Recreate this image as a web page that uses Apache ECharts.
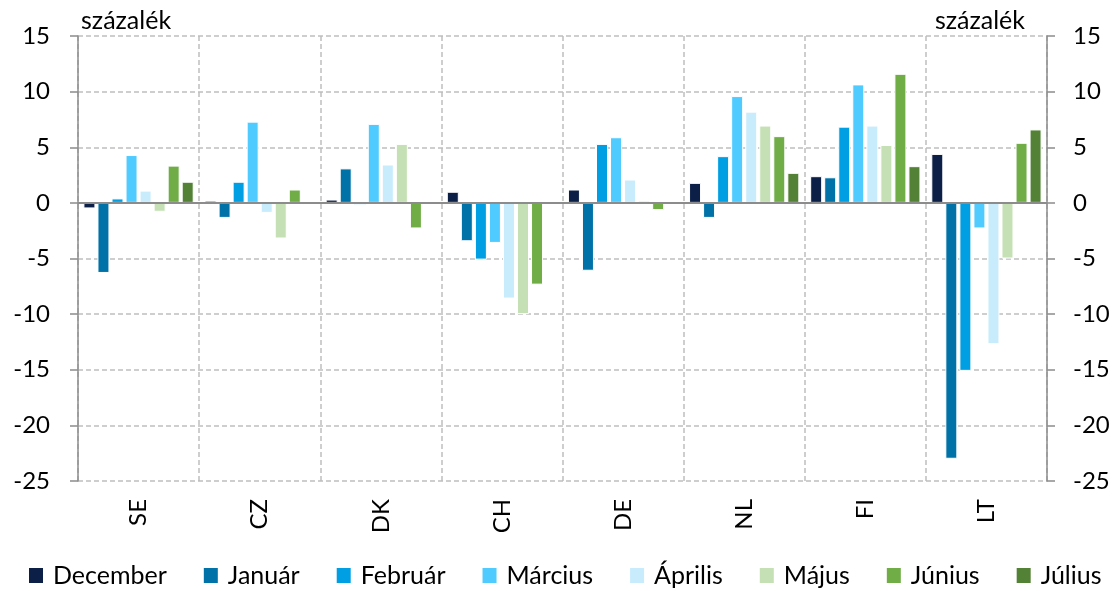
<!DOCTYPE html>
<html><head><meta charset="utf-8">
<script src="https://cdn.jsdelivr.net/npm/echarts@6/dist/echarts.min.js"></script>
<style>html,body{margin:0;padding:0;background:#fff}#c{width:1118px;height:591px}</style>
</head><body><div id="c"></div>
<script>
const categories = ['SE','CZ','DK','CH','DE','NL','FI','LT'];
const seriesNames = ['December','Január','Február','Március','Április','Május','Június','Július'];
const dec = [-0.5, 0.2, 0.3, 1.0, 1.2, 1.8, 2.4, 4.4];
const jan = [-6.3, -1.35, 3.1, -3.45, -6.1, -1.35, 2.3, -23.0];
const feb = [0.4, 1.9, -0.2, -5.1, 5.3, 4.2, 6.85, -15.1];
const mar = [4.3, 7.3, 7.1, -3.6, 5.9, 9.6, 10.65, -2.3];
const apr = [1.1, -0.9, 3.45, -8.6, 2.1, 8.2, 6.95, -12.7];
const may = [-0.8, -3.2, 5.3, -10.0, 0.2, 6.95, 5.2, -5.0];
const jun = [3.35, 1.2, -2.3, -7.35, -0.65, 6.0, 11.6, 5.4];
const jul = [1.9, 0, 0, 0, 0, 2.7, 3.3, 6.6];
const yTicks = [-25, -20, -15, -10, -5, 0, 5, 10, 15];
const colors = ['#0C1F47','#0072A8','#009FE3','#4FCBFF','#C8ECFC','#C5E0B4','#70AD47','#538135'];
const values = [dec, jan, feb, mar, apr, may, jun, jul];

const font = 'Lato, "Open Sans", sans-serif';
const chart = echarts.init(document.getElementById('c'));
const yAxisCommon = {
  type: 'value', min: yTicks[0], max: yTicks[yTicks.length-1], interval: 5,
  axisLine: {show: true, lineStyle: {color: '#8c8c8c', width: 1.5}},
  axisTick: {show: true, length: 8, lineStyle: {color: '#8c8c8c', width: 1.5}}
};
chart.setOption({
  animation: false,
  color: colors,
  grid: {left: 78, right: 71, top: 36, bottom: 110, containLabel: false},
  legend: {
    bottom: 3, left: 27, width: 1100, padding: 0, itemWidth: 16, itemHeight: 17, itemGap: 35,
    icon: 'rect',
    textStyle: {color: '#000', fontSize: 25, fontFamily: font, padding: [0,0,0,4]},
    data: seriesNames
  },
  xAxis: {
    type: 'category', data: categories, boundaryGap: true,
    axisLine: {show: false, onZero: false},
    axisTick: {show: false},
    splitLine: {show: true, lineStyle: {color: '#bfbfbf', type: [5,3], width: 1.5}},
    axisLabel: {rotate: 90, color: '#000', fontSize: 24, fontFamily: font, margin: 18}
  },
  yAxis: [
    Object.assign({}, yAxisCommon, {position: 'left', name: 'százalék', nameGap: 7,
      axisLabel: {color: '#000', fontSize: 24, fontFamily: font, margin: 28},
      nameTextStyle: {color: '#000', fontSize: 25, fontFamily: font, align: 'left', padding: [0,0,-4,3]},
      splitLine: {show: true, lineStyle: {color: '#bfbfbf', type: [5,3], width: 1.5}}}),
    Object.assign({}, yAxisCommon, {position: 'right', name: 'százalék', nameGap: 7,
      axisLabel: {color: '#000', fontSize: 24, fontFamily: font, margin: 26},
      nameTextStyle: {color: '#000', fontSize: 25, fontFamily: font, align: 'right', padding: [0,22,-4,0]},
      splitLine: {show: false}})
  ],
  series: seriesNames.map((n, i) => ({
    name: n, type: 'bar', data: values[i], barWidth: 12, barGap: '17%',
    itemStyle: {color: colors[i], borderColor: '#fff', borderWidth: 1},
    markLine: i === 0 ? {silent: true, symbol: 'none', label: {show: false},
      lineStyle: {color: '#8c8c8c', type: 'solid', width: 2}, data: [{yAxis: 0}]} : undefined
  }))
});
</script></body></html>
